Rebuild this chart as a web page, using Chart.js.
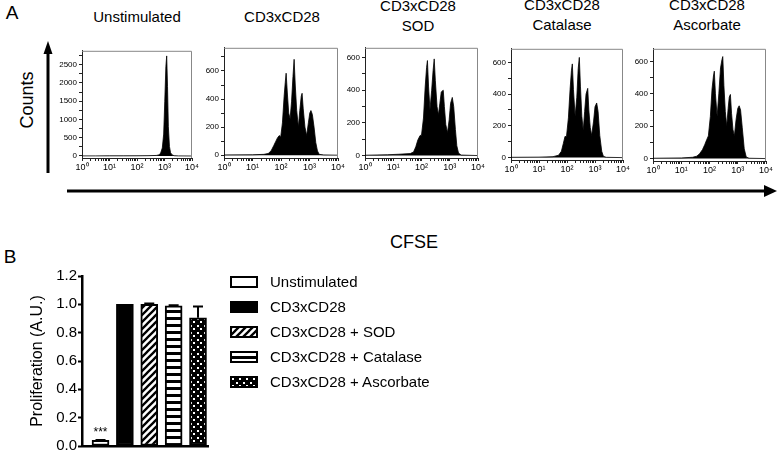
<!DOCTYPE html>
<html><head><meta charset="utf-8">
<script src="https://cdn.jsdelivr.net/npm/chart.js@4.4.0/dist/chart.umd.min.js"></script>
<style>
html,body{margin:0;padding:0;background:#fff;}
#page{position:relative;width:778px;height:456px;overflow:hidden;font-family:"Liberation Sans",Arial,sans-serif;color:#000;}
canvas{position:absolute;}
.lbl{position:absolute;transform:translate(-50%,-50%);white-space:nowrap;text-align:center;line-height:20px;font-size:15px;}
.lg{position:absolute;font-size:15px;line-height:18px;white-space:nowrap;transform:translateY(-50%);}
</style></head><body>
<div id="page">
<svg width="778" height="456" style="position:absolute;left:0;top:0">
  <line x1="48" y1="52" x2="48" y2="173" stroke="#000" stroke-width="3"/>
  <polygon points="48,41 43.5,54 52.5,54" fill="#000"/>
  <line x1="67" y1="191" x2="766" y2="191" stroke="#000" stroke-width="3"/>
  <polygon points="777,191 764,185 764,197" fill="#000"/>
</svg>
<div class="lbl" style="left:12px;top:13px;font-size:19px">A</div>
<div class="lbl" style="left:10px;top:257px;font-size:19px">B</div>
<div class="lbl" style="left:27px;top:100px;font-size:18px;transform:translate(-50%,-50%) rotate(-90deg)">Counts</div>
<div class="lbl" style="left:414px;top:242px;font-size:18px">CFSE</div>
<div class="lbl" style="left:137px;top:17px">Unstimulated</div>
<div class="lbl" style="left:282px;top:17px">CD3xCD28</div>
<div class="lbl" style="left:418px;top:16px">CD3xCD28<br>SOD</div>
<div class="lbl" style="left:562px;top:15px">CD3xCD28<br>Catalase</div>
<div class="lbl" style="left:707px;top:15px">CD3xCD28<br>Ascorbate</div>
</div>
<script>
// ---------- Panel A data (x = log10 CFSE intensity, y = counts) ----------
const unstimLog    = [0, 0.5, 1.0, 1.5, 2.0, 2.4, 2.7, 2.8, 2.86, 2.92, 2.97, 3.01, 3.05, 3.08, 3.11, 3.14, 3.18, 3.22, 3.28, 3.35, 3.5, 4.0];
const unstimCounts = [3, 3, 4, 4, 5, 8, 15, 30, 80, 220, 600, 1500, 2450, 2740, 1900, 800, 260, 90, 30, 8, 3, 0];

const cd3Log    = [0, 1.0, 1.4, 1.55, 1.65, 1.75, 1.82, 1.88, 1.94, 1.99, 2.05, 2.11, 2.15, 2.18, 2.22, 2.27, 2.32, 2.37, 2.42, 2.46, 2.50, 2.55, 2.61, 2.66, 2.71, 2.74, 2.78, 2.84, 2.90, 2.96, 3.01, 3.05, 3.10, 3.16, 3.22, 3.28, 3.34, 3.5, 4.0];
const cd3Counts = [2, 3, 6, 12, 30, 70, 100, 125, 140, 130, 230, 420, 520, 584, 450, 300, 260, 380, 560, 683, 500, 320, 200, 320, 420, 441, 330, 200, 140, 230, 300, 318, 290, 200, 90, 30, 6, 2, 0];

const sodLog    = [0, 0.8, 1.2, 1.6, 1.72, 1.8, 1.87, 1.95, 2.0, 2.07, 2.13, 2.18, 2.21, 2.25, 2.3, 2.36, 2.41, 2.45, 2.49, 2.55, 2.6, 2.65, 2.7, 2.77, 2.81, 2.86, 2.92, 2.98, 3.03, 3.09, 3.14, 3.2, 3.25, 3.31, 3.4, 4.0];
const sodCounts = [2, 5, 8, 12, 22, 55, 95, 123, 125, 230, 420, 540, 582, 420, 280, 400, 520, 592, 460, 300, 250, 320, 390, 400, 300, 190, 140, 220, 320, 356, 300, 160, 60, 15, 3, 0];

const catLog    = [0, 1.0, 1.5, 1.7, 1.8, 1.87, 1.93, 1.98, 2.05, 2.11, 2.16, 2.19, 2.23, 2.29, 2.35, 2.4, 2.44, 2.48, 2.53, 2.58, 2.63, 2.68, 2.74, 2.78, 2.83, 2.88, 2.95, 3.0, 3.06, 3.11, 3.17, 3.24, 3.3, 3.4, 4.0];
const catCounts = [2, 3, 6, 15, 40, 90, 134, 130, 250, 430, 550, 590, 430, 260, 380, 560, 631, 450, 260, 170, 290, 400, 436, 300, 190, 140, 230, 320, 344, 290, 140, 40, 8, 2, 0];

const ascLog    = [0, 1.0, 1.4, 1.55, 1.65, 1.75, 1.83, 1.9, 1.96, 2.03, 2.09, 2.14, 2.17, 2.21, 2.27, 2.33, 2.39, 2.44, 2.47, 2.51, 2.56, 2.61, 2.66, 2.7, 2.74, 2.78, 2.83, 2.88, 2.94, 3.0, 3.05, 3.1, 3.16, 3.23, 3.3, 3.4, 4.0];
const ascCounts = [2, 4, 8, 15, 30, 55, 85, 116, 140, 260, 430, 510, 540, 400, 260, 400, 560, 610, 630, 450, 290, 200, 310, 380, 396, 280, 180, 140, 240, 310, 326, 300, 190, 60, 10, 2, 0];

const decadeLabels = ['10\u2070', '10\u00B9', '10\u00B2', '10\u00B3', '10\u2074'];

// ---------- Panel B data ----------
const groups = ['Unstimulated', 'CD3xCD28', 'CD3xCD28 + SOD', 'CD3xCD28 + Catalase', 'CD3xCD28 + Ascorbate'];
const groupPos = [0, 1, 2, 3, 4];
const prolifMeans = [0.04, 1.0, 1.0, 0.99, 0.905];
const prolifSem   = [0.003, 0, 0.006, 0.004, 0.08];
const prolifTicks = [0, 0.2, 0.4, 0.6, 0.8, 1.0, 1.2];

// ---------- layout (page pixels) ----------
const histBoxes = [
  {L: 82,  R: 192, T: 50, B: 158},
  {L: 224, R: 338, T: 47, B: 158},
  {L: 365, R: 478, T: 47, B: 158},
  {L: 511, R: 623, T: 48, B: 160},
  {L: 653, R: 766, T: 48, B: 161}
];

Chart.defaults.font.family = '"Liberation Sans", Arial, sans-serif';
Chart.defaults.color = '#000';
const page = document.getElementById('page');

const framePlugin = {
  id: 'frame',
  afterDraw(c) {
    const a = c.chartArea, ctx = c.ctx;
    ctx.save();
    ctx.strokeStyle = '#888'; ctx.lineWidth = 1;
    ctx.beginPath();
    ctx.moveTo(a.left, a.top + 0.5); ctx.lineTo(a.right - 0.5, a.top + 0.5); ctx.lineTo(a.right - 0.5, a.bottom);
    ctx.stroke();
    ctx.restore();
  }
};

function histChart(box, xs, ys, yMin, yMax, yStep, yLabelStep) {
  const padL = 30, padT = 6, padR = 10, axisH = 22;
  const cv = document.createElement('canvas');
  cv.width = box.R - box.L + padL + padR;
  cv.height = box.B - box.T + padT + axisH;
  cv.style.left = (box.L - padL) + 'px';
  cv.style.top = (box.T - padT) + 'px';
  page.appendChild(cv);
  const pts = xs.map((x, i) => ({x: x, y: ys[i]}));
  return new Chart(cv, {
    type: 'line',
    data: {datasets: [{data: pts, borderColor: '#000', backgroundColor: '#000', borderWidth: 0.8, fill: 'origin', pointRadius: 0, tension: 0}]},
    options: {
      responsive: false, animation: false,
      layout: {padding: {top: padT, right: padR, left: 0, bottom: 0}},
      plugins: {legend: {display: false}, tooltip: {enabled: false}},
      scales: {
        x: {
          type: 'linear', min: 0, max: 4,
          afterFit: s => { s.height = axisH; },
          afterBuildTicks: s => {
            const t = [];
            for (let d = 0; d <= 4; d++) {
              t.push({value: d});
              if (d < 4) for (let k = 2; k <= 9; k++) t.push({value: d + Math.log10(k)});
            }
            s.ticks = t;
          },
          ticks: {autoSkip: false, maxRotation: 0, font: {size: 9}, padding: 1,
                  callback: v => (Math.abs(v - Math.round(v)) < 1e-9 ? decadeLabels[Math.round(v)] : '')},
          grid: {display: true, drawOnChartArea: false, tickLength: 3, color: '#222'},
          border: {color: '#222', width: 1}
        },
        y: {
          min: yMin, max: yMax,
          afterFit: s => { s.width = padL; },
          afterBuildTicks: s => {
            const t = [];
            for (let v = 0; v <= yMax; v += yStep) t.push({value: v});
            s.ticks = t;
          },
          ticks: {autoSkip: false, font: {size: 8}, padding: 2,
                  callback: v => (v % yLabelStep === 0 ? String(v) : '')},
          grid: {display: true, drawOnChartArea: false, tickLength: 3, color: '#222'},
          border: {color: '#222', width: 1}
        }
      }
    },
    plugins: [framePlugin]
  });
}

histChart(histBoxes[0], unstimLog, unstimCounts, -55, 2880, 250, 500);
histChart(histBoxes[1], cd3Log, cd3Counts, -20, 765, 100, 200);
histChart(histBoxes[2], sodLog, sodCounts, -15, 660, 100, 200);
histChart(histBoxes[3], catLog, catCounts, -15, 685, 100, 200);
histChart(histBoxes[4], ascLog, ascCounts, -15, 678, 100, 200);

// ---------- patterns ----------
function makePattern(w, h, draw) {
  const c = document.createElement('canvas'); c.width = w; c.height = h;
  const x = c.getContext('2d'); draw(x, w, h);
  return x.createPattern(c, 'repeat');
}
const diagPat = makePattern(7, 7, (x, w, h) => {
  x.fillStyle = '#fff'; x.fillRect(0, 0, w, h);
  x.strokeStyle = '#000'; x.lineWidth = 2.3; x.beginPath();
  x.moveTo(-1, h + 1); x.lineTo(w + 1, -1);
  x.moveTo(-w / 2 - 1, h / 2 + 1); x.lineTo(w / 2 + 1, -h / 2 - 1);
  x.moveTo(w / 2 - 1, h * 1.5 + 1); x.lineTo(w * 1.5 + 1, h / 2 - 1);
  x.stroke();
});
const stripePat = makePattern(4, 7, (x, w, h) => {
  x.fillStyle = '#fff'; x.fillRect(0, 0, w, h);
  x.fillStyle = '#000'; x.fillRect(0, 0, w, 3);
});
const dotPat = makePattern(7, 7, (x, w, h) => {
  x.fillStyle = '#000'; x.fillRect(0, 0, w, h);
  x.fillStyle = '#fff'; x.fillRect(1, 1, 2, 2); x.fillRect(4, 4, 2, 2);
});
const fills = ['#fff', '#000', diagPat, stripePat, dotPat];

const errorPlugin = {
  id: 'errbars',
  afterDatasetsDraw(c) {
    const ctx = c.ctx, xs = c.scales.x, ys = c.scales.y;
    ctx.save();
    ctx.strokeStyle = '#000'; ctx.lineWidth = 2;
    prolifMeans.forEach((m, i) => {
      const e = prolifSem[i];
      if (!e) return;
      const px = xs.getPixelForValue(groupPos[i]);
      const y1 = ys.getPixelForValue(m), y2 = ys.getPixelForValue(m + e);
      ctx.beginPath();
      ctx.moveTo(px, y1); ctx.lineTo(px, y2);
      ctx.moveTo(px - 5, y2); ctx.lineTo(px + 5, y2);
      ctx.stroke();
    });
    ctx.fillStyle = '#000'; ctx.font = '12px "Liberation Sans", Arial, sans-serif';
    ctx.textAlign = 'center'; ctx.textBaseline = 'bottom';
    ctx.fillText('***', xs.getPixelForValue(groupPos[0]), ys.getPixelForValue(prolifMeans[0] + prolifSem[0]) - 1);
    ctx.restore();
  }
};

const bcv = document.createElement('canvas');
bcv.width = 230; bcv.height = 216;
bcv.style.left = '0px'; bcv.style.top = '240px';
page.appendChild(bcv);

const bar = new Chart(bcv, {
  type: 'bar',
  data: {
    datasets: [{
      label: 'Proliferation',
      data: groupPos.map((p, i) => ({x: p, y: prolifMeans[i]})),
      backgroundColor: fills, borderColor: '#000', borderWidth: 2,
      borderSkipped: false, barThickness: 17
    }]
  },
  options: {
    responsive: false, animation: false,
    layout: {padding: {left: 24, top: 36, right: 22, bottom: 0}},
    plugins: {tooltip: {enabled: false}, legend: {display: false}},
    scales: {
      x: {
        type: 'linear', min: -0.76, max: 4.41, offset: false,
        afterFit: s => { s.height = 6; },
        afterBuildTicks: s => { s.ticks = groupPos.map(v => ({value: v})); },
        ticks: {display: false},
        grid: {display: true, offset: false, drawOnChartArea: false, drawTicks: false},
        border: {display: true, color: '#000', width: 2.5}
      },
      y: {
        min: 0, max: 1.2,
        afterFit: s => { s.width = 58; },
        afterBuildTicks: s => { s.ticks = prolifTicks.map(v => ({value: v})); },
        title: {display: true, text: 'Proliferation (A.U.)', font: {size: 16}, color: '#000'},
        ticks: {font: {size: 15}, color: '#000', padding: 1, callback: v => Number(v).toFixed(1)},
        grid: {display: true, drawOnChartArea: false, tickLength: 4, tickWidth: 2, tickColor: '#000'},
        border: {display: true, color: '#000', width: 2.5}
      }
    }
  },
  plugins: [errorPlugin]
});

// ---------- HTML legend built from the group names and the bar fills ----------
groups.forEach((g, i) => {
  const rowY = 282 + 25 * i;
  const box = document.createElement('canvas');
  box.width = 32; box.height = 16;
  box.style.left = '228px'; box.style.top = (rowY - 8) + 'px';
  page.appendChild(box);
  const bx = box.getContext('2d');
  bx.fillStyle = fills[i]; bx.fillRect(2, 2, 28, 12);
  bx.strokeStyle = '#000'; bx.lineWidth = 2; bx.strokeRect(3, 3, 26, 10);
  const t = document.createElement('div');
  t.className = 'lg'; t.textContent = g;
  t.style.left = '270px'; t.style.top = rowY + 'px';
  page.appendChild(t);
});
</script>
</body></html>
